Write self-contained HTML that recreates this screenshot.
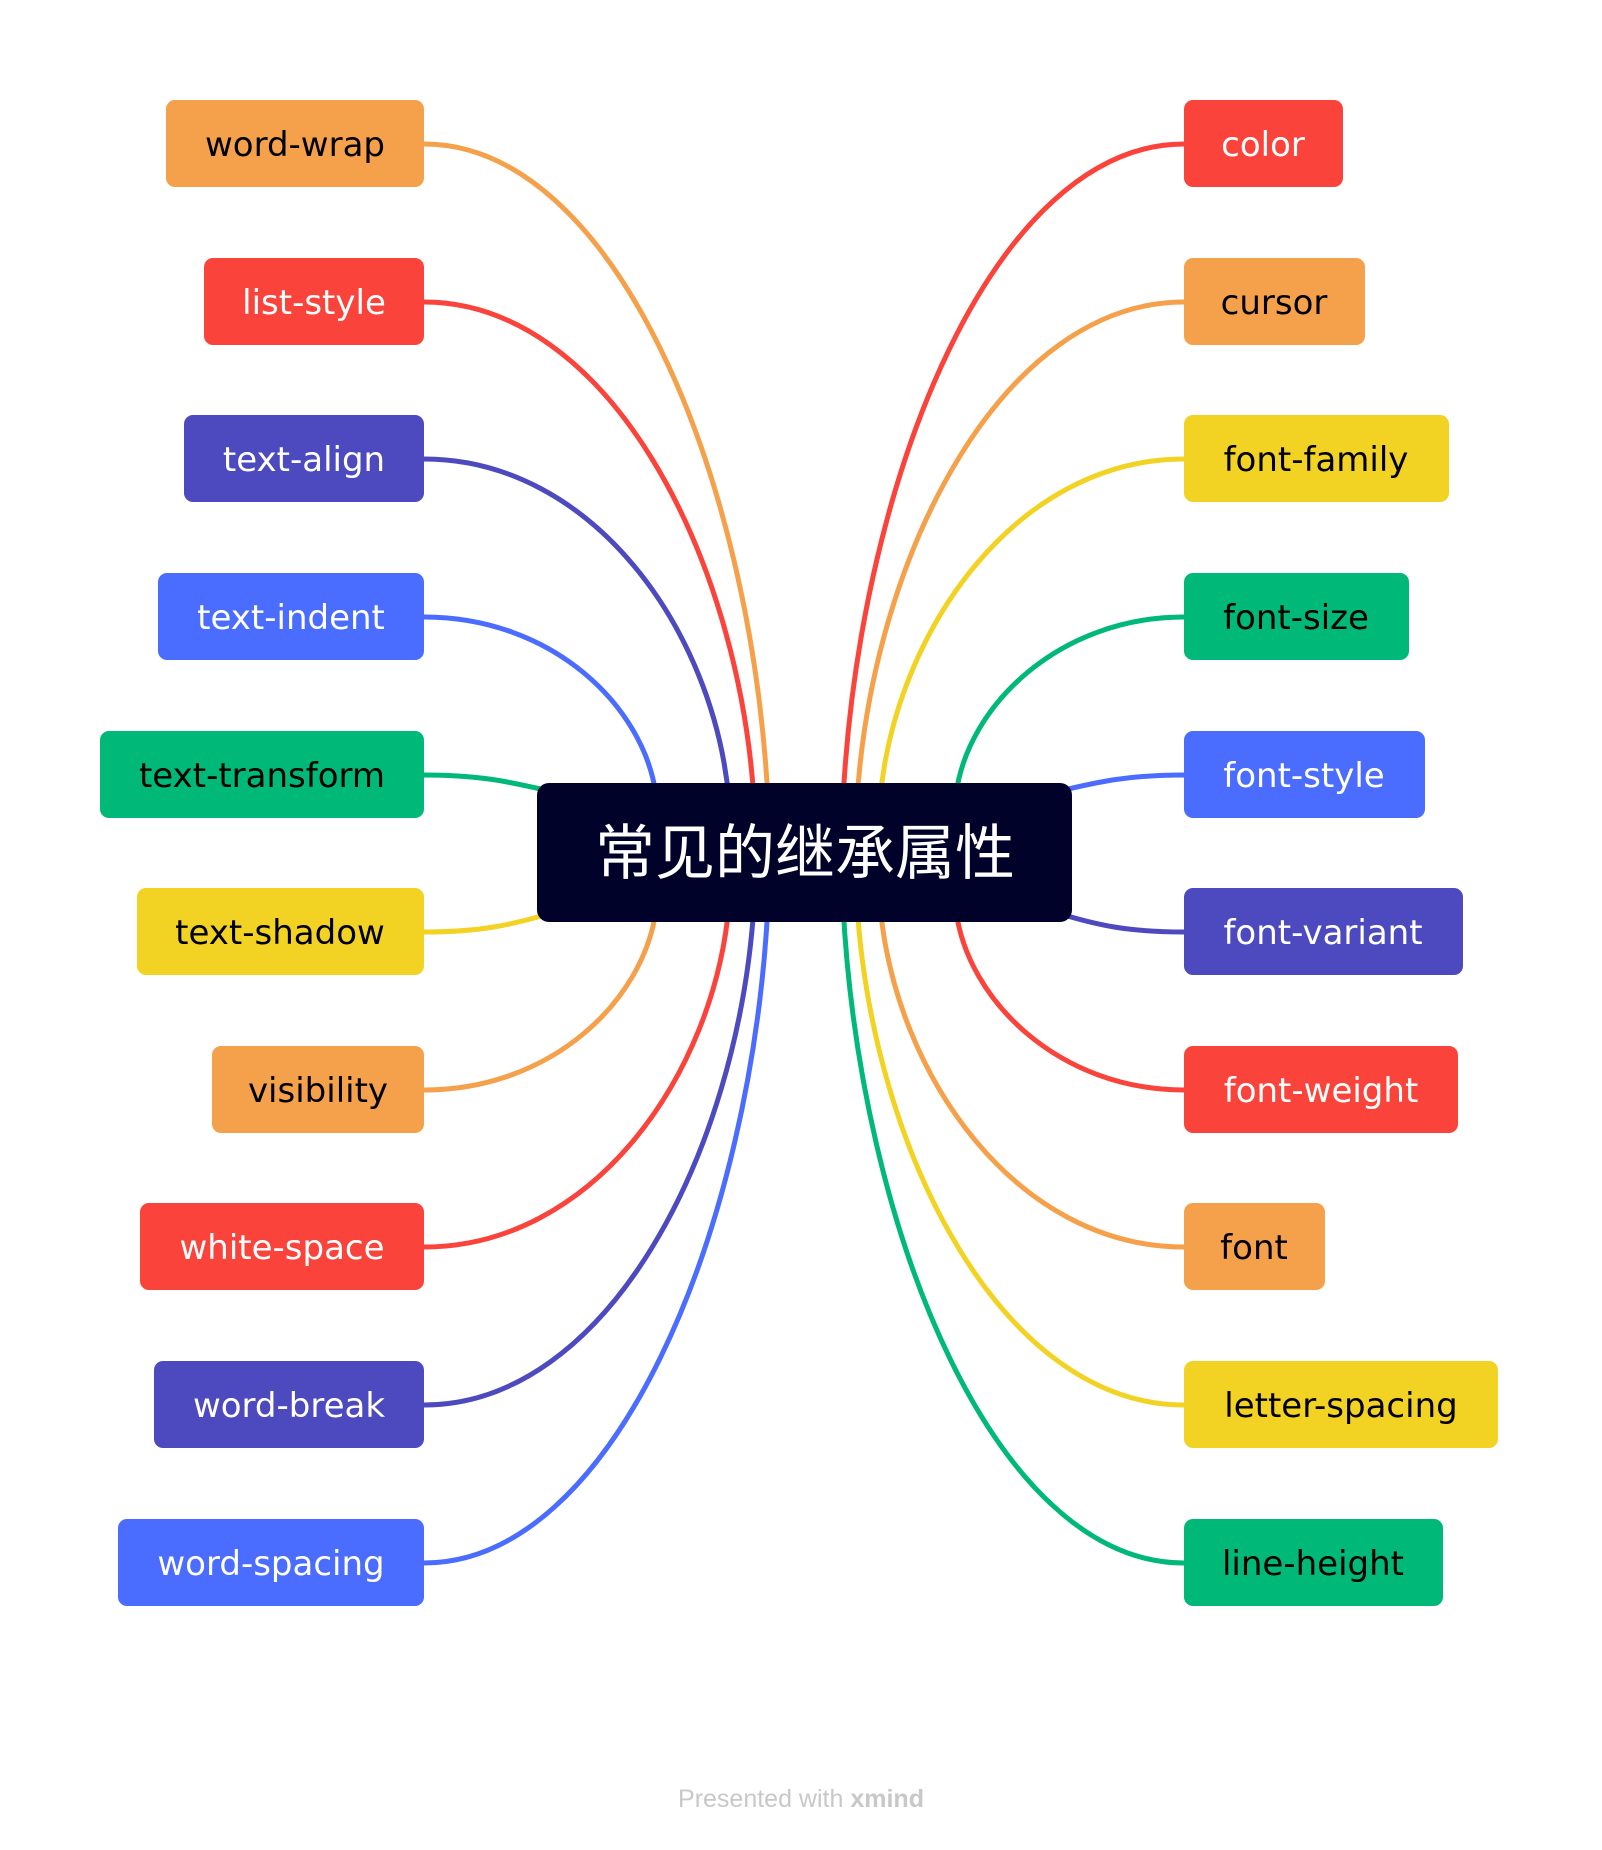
<!DOCTYPE html>
<html><head><meta charset="utf-8"><style>
html,body{margin:0;padding:0;background:#fff}
svg{display:block}
.t{font-family:"DejaVu Sans","Liberation Sans",sans-serif;font-size:34px}
</style></head><body>
<svg width="1602" height="1850" viewBox="0 0 1602 1850" xmlns="http://www.w3.org/2000/svg">
<g fill="none" stroke-width="5" stroke-linecap="round">
<path d="M424 144 C613 144 751 472 768 800" stroke="#F5A14B"/>
<path d="M424 302 C606 302 738 551 754 800" stroke="#FA433A"/>
<path d="M424 459 C592 459 714 630 729 800" stroke="#4D4ABF"/>
<path d="M424 617 C552 617 644 706 656 795" stroke="#4A6CFF"/>
<path d="M424 775 C480 775 510 782 545 790" stroke="#00B877"/>
<path d="M424 932 C480 932 510 925 545 915" stroke="#F2D323"/>
<path d="M424 1090 C552 1090 644 1000 656 910" stroke="#F5A14B"/>
<path d="M424 1247 C592 1247 714 1076 729 905" stroke="#FA433A"/>
<path d="M424 1405 C606 1405 738 1155 754 905" stroke="#4D4ABF"/>
<path d="M424 1563 C613 1563 751 1234 768 905" stroke="#4A6CFF"/>
<path d="M1184 144 C996 144 860 472 843 800" stroke="#FA433A"/>
<path d="M1184 302 C1004 302 873 551 857 800" stroke="#F5A14B"/>
<path d="M1184 459 C1017 459 895 630 880 800" stroke="#F2D323"/>
<path d="M1184 617 C1059 617 967 706 956 795" stroke="#00B877"/>
<path d="M1184 775 C1128 775 1098 782 1064 790" stroke="#4A6CFF"/>
<path d="M1184 932 C1128 932 1098 925 1064 915" stroke="#4D4ABF"/>
<path d="M1184 1090 C1059 1090 967 1000 956 910" stroke="#FA433A"/>
<path d="M1184 1247 C1017 1247 895 1076 880 905" stroke="#F5A14B"/>
<path d="M1184 1405 C1004 1405 873 1155 857 905" stroke="#F2D323"/>
<path d="M1184 1563 C996 1563 860 1234 843 905" stroke="#00B877"/>
</g>
<rect x="537" y="783" width="535" height="139" rx="12" fill="#000229"/>
<text x="805" y="874" text-anchor="middle" font-family="'Noto Sans CJK SC',sans-serif" font-size="60" fill="#fff">常见的继承属性</text>
<g class="t" text-anchor="middle">
<rect x="166" y="100" width="258" height="87" rx="9" fill="#F5A14B"/><text x="295" y="156">word-wrap</text>
<rect x="204" y="258" width="220" height="87" rx="9" fill="#FA433A"/><text x="314" y="314" fill="#fff">list-style</text>
<rect x="184" y="415" width="240" height="87" rx="9" fill="#4D4ABF"/><text x="304" y="471" fill="#fff">text-align</text>
<rect x="158" y="573" width="266" height="87" rx="9" fill="#4A6CFF"/><text x="291" y="629" fill="#fff">text-indent</text>
<rect x="100" y="731" width="324" height="87" rx="9" fill="#00B877"/><text x="262" y="787">text-transform</text>
<rect x="137" y="888" width="287" height="87" rx="9" fill="#F2D323"/><text x="280" y="944">text-shadow</text>
<rect x="212" y="1046" width="212" height="87" rx="9" fill="#F5A14B"/><text x="318" y="1102">visibility</text>
<rect x="140" y="1203" width="284" height="87" rx="9" fill="#FA433A"/><text x="282" y="1259" fill="#fff">white-space</text>
<rect x="154" y="1361" width="270" height="87" rx="9" fill="#4D4ABF"/><text x="289" y="1417" fill="#fff">word-break</text>
<rect x="118" y="1519" width="306" height="87" rx="9" fill="#4A6CFF"/><text x="271" y="1575" fill="#fff">word-spacing</text>
<rect x="1184" y="100" width="159" height="87" rx="9" fill="#FA433A"/><text x="1263" y="156" fill="#fff">color</text>
<rect x="1184" y="258" width="181" height="87" rx="9" fill="#F5A14B"/><text x="1274" y="314">cursor</text>
<rect x="1184" y="415" width="265" height="87" rx="9" fill="#F2D323"/><text x="1316" y="471">font-family</text>
<rect x="1184" y="573" width="225" height="87" rx="9" fill="#00B877"/><text x="1296" y="629">font-size</text>
<rect x="1184" y="731" width="241" height="87" rx="9" fill="#4A6CFF"/><text x="1304" y="787" fill="#fff">font-style</text>
<rect x="1184" y="888" width="279" height="87" rx="9" fill="#4D4ABF"/><text x="1323" y="944" fill="#fff">font-variant</text>
<rect x="1184" y="1046" width="274" height="87" rx="9" fill="#FA433A"/><text x="1321" y="1102" fill="#fff">font-weight</text>
<rect x="1184" y="1203" width="141" height="87" rx="9" fill="#F5A14B"/><text x="1254" y="1259">font</text>
<rect x="1184" y="1361" width="314" height="87" rx="9" fill="#F2D323"/><text x="1341" y="1417">letter-spacing</text>
<rect x="1184" y="1519" width="259" height="87" rx="9" fill="#00B877"/><text x="1313" y="1575">line-height</text>
</g>
<text x="801" y="1807" text-anchor="middle" font-family="'Liberation Sans',sans-serif" font-size="25" fill="#c8c8c8">Presented with <tspan font-weight="bold">xmind</tspan></text>
</svg>
</body></html>
